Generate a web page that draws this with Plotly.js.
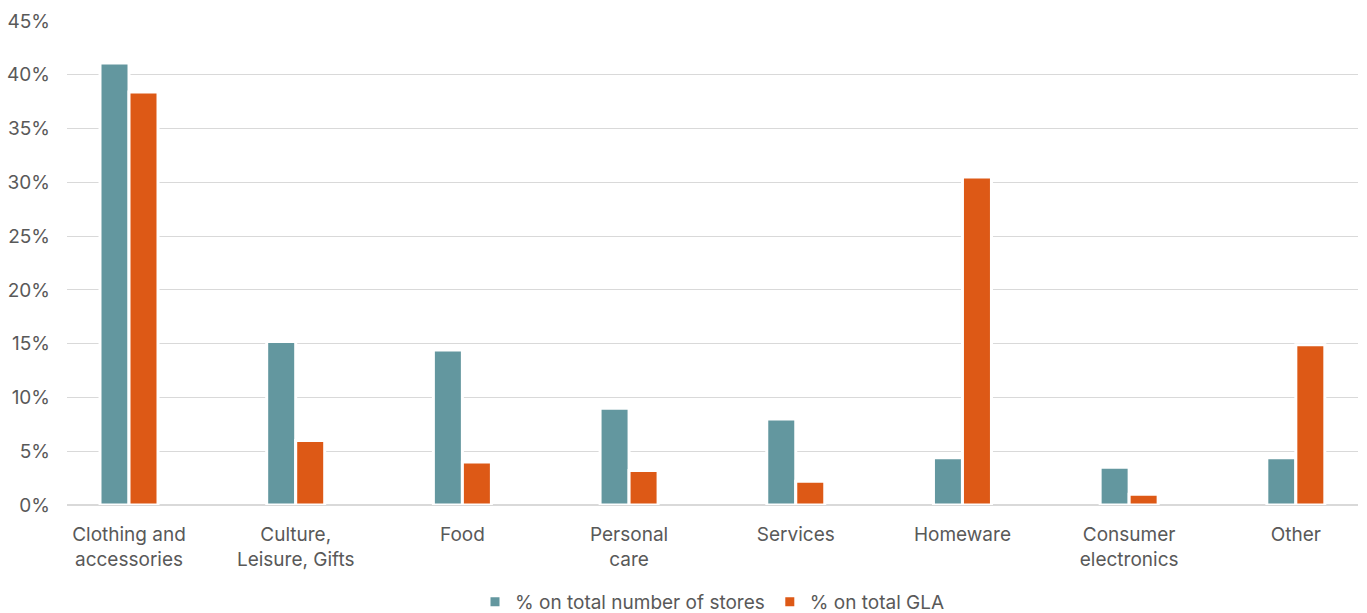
<!DOCTYPE html>
<html><head><meta charset="utf-8">
<script src="https://cdn.plot.ly/plotly-3.0.1.min.js"></script>
<style>html,body{margin:0;padding:0;background:#fff;}#chart{width:1367px;height:613px;}</style>
</head><body><div id="chart"></div>
<script>
const categories = ["Clothing and<br>accessories","Culture,<br>Leisure, Gifts","Food","Personal<br>care","Services","Homeware","Consumer<br>electronics","Other"];
const storesPct = [41.1, 15.2, 14.4, 9.0, 8.0, 4.4, 3.5, 4.4];
const glaPct = [38.4, 6.0, 4.0, 3.2, 2.2, 30.5, 1.0, 14.9];
const seriesNames = ["% on total number of stores", "% on total GLA"];
const yTicks = [0,5,10,15,20,25,30,35,40,45];

const font = {family: "Inter, 'Open Sans', sans-serif", size: 19, color: "#595959"};
const xs = categories.map((c,i)=>i);
const traces = [
  {type:'bar', name: seriesNames[0], x: xs, y: storesPct, marker:{color:'#63979f', line:{color:'#ffffff', width:3}}, hoverinfo:'skip'},
  {type:'bar', name: seriesNames[1], x: xs, y: glaPct, marker:{color:'#dd5916', line:{color:'#ffffff', width:3}}, hoverinfo:'skip'}
];
const layout = {
  width:1367, height:613,
  margin:{l:67, r:9, t:21, b:108, autoexpand:false},
  paper_bgcolor:'#fff', plot_bgcolor:'#fff',
  font: font,
  barmode:'group', bargap:0.652, bargroupgap:0,
  showlegend:true,
  legend:{orientation:'h', x:0.5, xanchor:'center', y:-0.2, yanchor:'middle', font:font, itemwidth:30, tracegroupgap:0},
  xaxis:{type:'linear', range:[-0.372, 7.373], tickmode:'array', tickvals: xs, ticktext: categories,
    showgrid:false, zeroline:false, showline:false, ticks:'', tickfont:font, ticklabelstandoff:16, fixedrange:true},
  yaxis:{range:[0,45], tickmode:'array', tickvals:yTicks, ticktext:yTicks.map(v=>v+'%'),
    showgrid:true, gridcolor:'#d9d9d9', gridwidth:1, zeroline:true, zerolinecolor:'#d9d9d9', zerolinewidth:2,
    showline:false, ticks:'', tickfont:font, ticklabelstandoff:16, fixedrange:true}
};
Plotly.newPlot('chart', traces, layout, {displayModeBar:false, staticPlot:true});
</script></body></html>
